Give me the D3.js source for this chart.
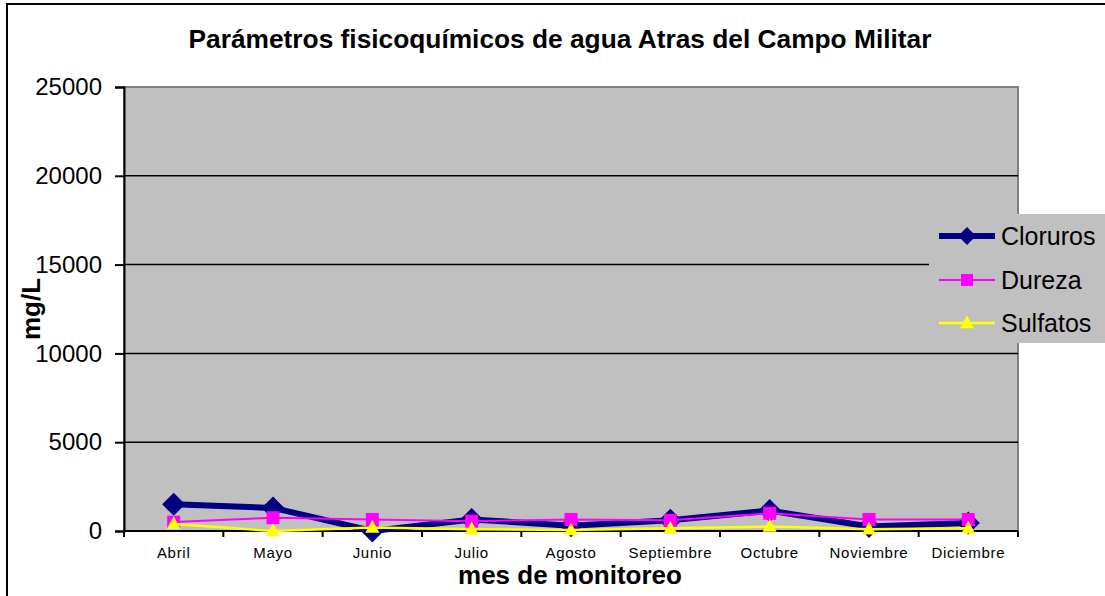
<!DOCTYPE html>
<html><head><meta charset="utf-8">
<script src="https://cdn.jsdelivr.net/npm/d3@7"></script>
<style>body{margin:0;background:#fff}svg{display:block}text{font-family:"Liberation Sans",Arial,sans-serif}</style>
</head><body>
<svg id="c" width="1105" height="596"></svg>
<script>
const months = ["Abril","Mayo","Junio","Julio","Agosto","Septiembre","Octubre","Noviembre","Diciembre"];
const cloruros = [1500, 1300, 0, 650, 300, 600, 1150, 250, 450];
const dureza   = [500, 750, 650, 550, 650, 600, 1000, 650, 650];
const sulfatos = [400, 0, 200, 100, 50, 150, 250, 100, 150];
const yTicks = [0, 5000, 10000, 15000, 20000, 25000];
const seriesNames = ["Cloruros","Dureza","Sulfatos"];

const svg = d3.select("#c");
const L = 124, R = 1018, T = 87, B = 531;
const x = d3.scalePoint().domain(months).range([L, R]).padding(0.5);
const xb = d3.scaleBand().domain(months).range([L, R]);
const y = d3.scaleLinear().domain([0, 25000]).range([B, T]);

// outer border
svg.append("rect").attr("x",7).attr("y",4).attr("width",1120).attr("height",620)
  .attr("fill","#fff").attr("stroke","#000").attr("stroke-width",2);

// plot area
svg.append("rect").attr("x",L).attr("y",T).attr("width",R-L).attr("height",B-T)
  .attr("fill","#C0C0C0").attr("stroke","#808080").attr("stroke-width",2);

// gridlines
svg.append("g").selectAll("line").data(yTicks.filter(d=>d>0 && d<25000)).join("line")
  .attr("x1",L).attr("x2",R).attr("y1",d=>y(d)).attr("y2",d=>y(d))
  .attr("stroke","#000").attr("stroke-width",1.5);

// y axis
const yAxis = svg.append("g").attr("transform",`translate(${L},0)`)
  .call(d3.axisLeft(y).tickValues(yTicks).tickSize(9).tickPadding(13).tickFormat(d3.format("d")));
yAxis.select(".domain").attr("stroke","#000").attr("stroke-width",2);
yAxis.selectAll(".tick line").attr("stroke","#000").attr("stroke-width",2);
yAxis.selectAll(".tick text").attr("font-size","24px").attr("fill","#000")
  .style("font-family","'Liberation Sans',Arial,sans-serif");

// x axis
const xAxisG = svg.append("g").attr("transform",`translate(0,${B})`);
xAxisG.append("line").attr("x1",L).attr("x2",R).attr("y1",0).attr("y2",0).attr("stroke","#000").attr("stroke-width",2);
const bounds = months.map(m=>xb(m)).concat([R]);
xAxisG.selectAll("line.tk").data(bounds).join("line").attr("class","tk")
  .attr("x1",d=>d).attr("x2",d=>d).attr("y1",0).attr("y2",6).attr("stroke","#000").attr("stroke-width",2);
xAxisG.selectAll("text").data(months).join("text")
  .attr("x",d=>x(d)).attr("y",27).attr("text-anchor","middle")
  .attr("font-size","15px").attr("letter-spacing","0.7px").attr("fill","#000").text(d=>d);

// series
const line = d3.line().x((d,i)=>x(months[i])).y(d=>y(d));
const diamond = (s)=>`M0,${-s}L${s},0L0,${s}L${-s},0Z`;
const square = (s)=>`M${-s},${-s}H${s}V${s}H${-s}Z`;
const tri = (s)=>`M0,${-s*1.1}L${s},${s*0.75}L${-s},${s*0.75}Z`;

const series = [
  {name:seriesNames[0], data:cloruros, color:"#000080", w:6, shape:diamond, ms:11.5, lms:9},
  {name:seriesNames[1], data:dureza, color:"#FF00FF", w:2, shape:square, ms:6.5, lms:6},
  {name:seriesNames[2], data:sulfatos, color:"#FFFF00", w:2.5, shape:tri, ms:7, lms:7}
];

series.forEach(s=>{
  svg.append("path").datum(s.data).attr("d",line).attr("fill","none")
    .attr("stroke",s.color).attr("stroke-width",s.w).attr("stroke-linejoin","round");
  svg.append("g").selectAll("path").data(s.data).join("path")
    .attr("transform",(d,i)=>`translate(${x(months[i])},${y(d)})`)
    .attr("d",s.shape(s.ms)).attr("fill",s.color);
});

// legend
const lg = svg.append("g");
lg.append("rect").attr("x",929).attr("y",214).attr("width",200).attr("height",129).attr("fill","#C0C0C0");
const ly = [236, 280, 323];
series.forEach((s,i)=>{
  lg.append("line").attr("x1",939).attr("x2",995).attr("y1",ly[i]).attr("y2",ly[i])
    .attr("stroke",s.color).attr("stroke-width",s.w);
  lg.append("path").attr("transform",`translate(967,${ly[i]})`).attr("d",s.shape(s.lms)).attr("fill",s.color);
  lg.append("text").attr("x",1001).attr("y",ly[i]+9).attr("font-size","25px").attr("fill","#000").text(s.name);
});

// titles
svg.append("text").attr("x",560).attr("y",48).attr("text-anchor","middle")
  .attr("font-size","26.3px").attr("font-weight","bold")
  .text("Parámetros fisicoquímicos de agua Atras del Campo Militar");
svg.append("text").attr("x",570).attr("y",584).attr("text-anchor","middle")
  .attr("font-size","26px").attr("font-weight","bold")
  .text("mes de monitoreo");
svg.append("text").attr("transform","translate(40,309) rotate(-90)").attr("text-anchor","middle")
  .attr("font-size","26px").attr("font-weight","bold").text("mg/L");
</script>
</body></html>
